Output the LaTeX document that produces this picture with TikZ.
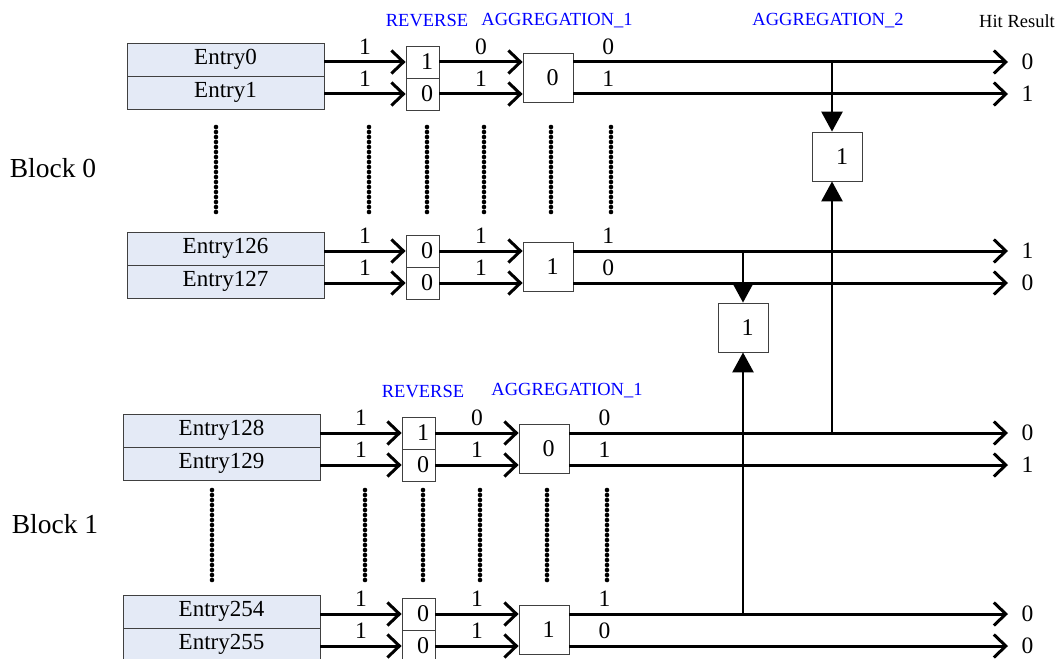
\documentclass[tikz,border=0pt]{standalone}
\usepackage{fontspec}
\setmainfont{Liberation Serif}
\usetikzlibrary{arrows.meta}
\definecolor{EntryBlue}{RGB}{228,234,246}
\definecolor{StageBlue}{RGB}{0,0,255}

\begin{document}
\begin{tikzpicture}[x=1pt,y=-1pt,line width=3pt,
  entry/.style={draw=black!75,line width=.8pt,fill=EntryBlue,minimum width=197pt,minimum height=33pt,inner sep=0pt,font=\fontsize{23}{24}\selectfont},
  cell/.style={draw=black!75,line width=.8pt,fill=white,minimum width=33pt,minimum height=32pt,inner sep=0pt,text width=21pt,align=right,font=\fontsize{24}{24}\selectfont},
  agg/.style={cell,minimum width=50pt,minimum height=49pt},
  bit/.style={inner sep=3pt,font=\fontsize{23.5}{24}\selectfont},
  result/.style={bit,inner xsep=12pt,anchor=west},
  stage/.style={text=StageBlue,font=\fontsize{18.5}{20}\selectfont},
  wire/.style={-{Straight Barb[length=12pt,width=23pt]}},
  tap/.style={line width=2.6pt,-{Triangle[length=20pt,width=21pt]}},
  dots/.style={line width=4.6pt,line cap=round,dash pattern=on 0pt off 5pt}]
\useasboundingbox (0,0) rectangle (1059,658);

% stage titles
\node[stage] (rv0) at (427,21) {REVERSE};
\node[stage] (ag0) at (557,21) {AGGREGATION\_1};
\node[stage] (ag2) at (828,21) {AGGREGATION\_2};
\node[font=\fontsize{18.5}{20}\selectfont] (hit) at (1017,21) {Hit Result};
\node[stage] (rv1) at (423,392) {REVERSE};
\node[stage] (ag1) at (567,391) {AGGREGATION\_1};

\node[font=\fontsize{27.5}{30}\selectfont] (blk0) at (53,168) {Block 0};
\node[font=\fontsize{27.5}{30}\selectfont] (blk1) at (55,524) {Block 1};

% one pair of entries with its reverse and aggregation
\foreach \p/\X/\T/\na/\nb/\ra/\rb/\ma/\mb/\ag/\oa/\ob/\ha/\hb in
  {a/127/43/Entry0/Entry1/1/0/0/1/0/0/1/0/1,
   b/127/232/Entry126/Entry127/0/0/1/1/1/1/0/1/0,
   c/123/414/Entry128/Entry129/1/0/0/1/0/0/1/0/1,
   d/123/595/Entry254/Entry255/0/0/1/1/1/1/0/0/0}{
  \node[entry] (e\p0) at (\X+98.5,\T+16.5) {\na};
  \node[entry] (e\p1) at (\X+98.5,\T+49.5) {\nb};
  \node[cell] (r\p0) at (\X+295.5,\T+19) {\ra};
  \node[cell] (r\p1) at (\X+295.5,\T+51) {\rb};
  \node[agg] (g\p) at (\X+421,\T+35) {\ag};
  \node[result] (h\p0) at (1008,\T+19) {\ha};
  \node[result] (h\p1) at (1008,\T+51) {\hb};
  \draw[wire] (e\p0.east |- r\p0) -- (r\p0.west) node[midway,above=3pt,bit] {1};
  \draw[wire] (e\p1.east |- r\p1) -- (r\p1.west) node[midway,above=3pt,bit] {1};
  \draw[wire] (r\p0.east) -- (r\p0.east -| g\p.west) node[midway,above=3pt,bit] {\ma};
  \draw[wire] (r\p1.east) -- (r\p1.east -| g\p.west) node[midway,above=3pt,bit] {\mb};
  \draw[wire] (g\p.east |- r\p0) -- (h\p0.west) node[pos=.08,above=3pt,bit] {\oa};
  \draw[wire] (g\p.east |- r\p1) -- (h\p1.west) node[pos=.08,above=3pt,bit] {\ob};
}

% skipped entries
\foreach \dx in {89,242,300,357,424,484}{
  \draw[dots] (127+\dx,127) -- (127+\dx,215);
  \draw[dots] (123+\dx,490) -- (123+\dx,580);
}

% aggregation_2
\node[agg] (m0) at (837.5,156.5) {1};
\node[agg] (m1) at (743,327.5) {1};
\coordinate (k0) at (832,62);
\coordinate (k1) at (743,251);
\coordinate (k2) at (832,433);
\coordinate (k3) at (743,614);
\draw[tap] (k0) -- (k0 |- m0.north);
\draw[tap] (k2) -- (k2 |- m0.south);
\draw[tap] (k1) -- (k1 |- m1.north);
\draw[tap] (k3) -- (k3 |- m1.south);
\end{tikzpicture}
\end{document}
